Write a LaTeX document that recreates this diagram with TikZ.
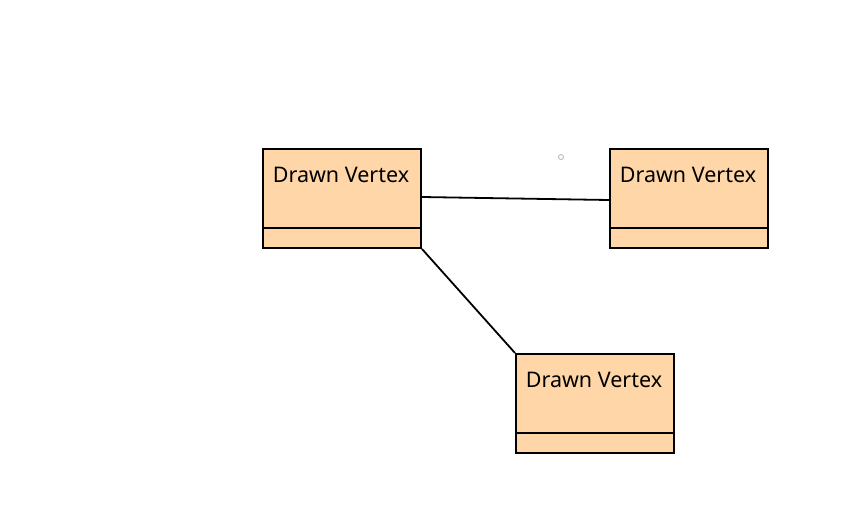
\documentclass[tikz,border=0pt]{standalone}
\usepackage{fontspec}
\setmainfont{Noto Sans}
\definecolor{vfill}{HTML}{FFD6A8}
\begin{document}
\begin{tikzpicture}[x=1pt,y=-1pt,
  vbox/.style={draw=black,line width=2pt,fill=vfill,minimum width=158pt,minimum height=99pt,anchor=north west,inner sep=0pt},
  vlabel/.style={font=\fontsize{21.5}{25}\selectfont,anchor=center,inner sep=0pt},
  edge/.style={draw=black,line width=1.8pt}]
\useasboundingbox (0,0) rectangle (858,515);
% vertex 1
\node[vbox] (v1) at (262,148) {};
\draw[line width=2pt] ([yshift=-80pt]v1.north west) -- ([yshift=-80pt]v1.north east);
\node[vlabel] (t1) at (341,175) {Drawn Vertex};
% vertex 2
\node[vbox] (v2) at (609,148) {};
\draw[line width=2pt] ([yshift=-80pt]v2.north west) -- ([yshift=-80pt]v2.north east);
\node[vlabel] (t2) at (688,175) {Drawn Vertex};
% vertex 3
\node[vbox] (v3) at (515,353) {};
\draw[line width=2pt] ([yshift=-80pt]v3.north west) -- ([yshift=-80pt]v3.north east);
\node[vlabel] (t3) at (594,380) {Drawn Vertex};
% edges
\draw[edge] ([yshift=-49pt]v1.north east) -- ([yshift=-52pt]v2.north west);
\draw[edge] (v1.south east) -- (v3.north west);
% small marker
\node[draw=gray!60,circle,line width=0.8pt,minimum size=5pt,inner sep=0pt] (m) at (561,157) {};
\end{tikzpicture}
\end{document}
